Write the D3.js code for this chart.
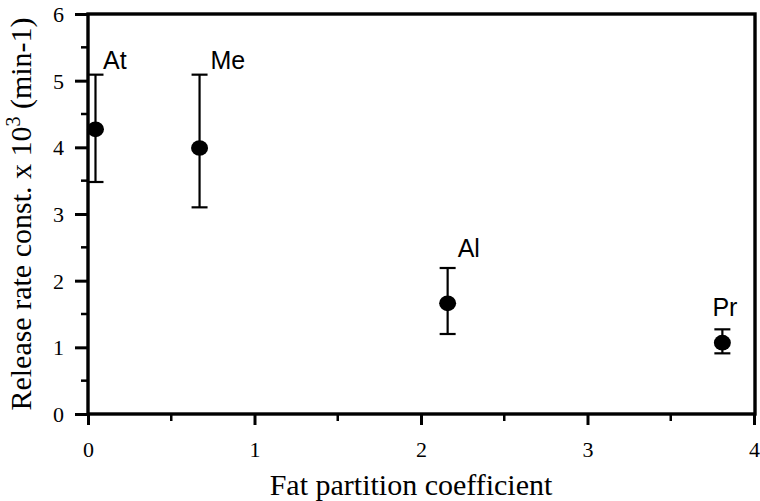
<!DOCTYPE html>
<html lang="en">
<head>
<meta charset="UTF-8">
<title>Release rate vs fat partition coefficient</title>
<script src="https://d3js.org/d3.v7.min.js"></script>
<style>
  body { margin: 0; background: #fff; }
  text { fill: #000; }
</style>
</head>
<body>
<script>
// data
const drugs = ["At", "Me", "Al", "Pr"];
const partition = [0.045, 0.67, 2.16, 3.81];
const rate = [4.27, 3.99, 1.66, 1.07];
const errHigh = [5.09, 5.09, 2.19, 1.27];
const errLow = [3.48, 3.10, 1.20, 0.91];
const labelX = [0.09, 0.735, 2.22, 3.75];
const labelY = [5.18, 5.18, 2.35, 1.47];
const xTicks = [0, 1, 2, 3, 4];
const yTicks = [0, 1, 2, 3, 4, 5, 6];

const W = 760, H = 501;
const x0 = 88, x1 = 754, y0 = 414, y1 = 14;

const svg = d3.select("body").append("svg")
    .attr("width", W)
    .attr("height", H);

const x = d3.scaleLinear().domain([0, 4]).range([x0, x1]);
const y = d3.scaleLinear().domain([0, 6]).range([y0, y1]);

// minor ticks (every 0.5)
const xMinor = d3.range(0.5, 4, 1);
const yMinor = d3.range(0.5, 6, 1);

svg.append("g")
    .selectAll("line")
    .data(xMinor)
    .join("line")
    .attr("x1", d => x(d)).attr("x2", d => x(d))
    .attr("y1", y0).attr("y2", y0 + 7)
    .attr("stroke", "#000").attr("stroke-width", 2.5);

svg.append("g")
    .selectAll("line")
    .data(yMinor)
    .join("line")
    .attr("y1", d => y(d)).attr("y2", d => y(d))
    .attr("x1", x0).attr("x2", x0 - 7)
    .attr("stroke", "#000").attr("stroke-width", 2.5);

// major axes
const xAxis = svg.append("g")
    .attr("transform", `translate(0,${y0})`)
    .call(d3.axisBottom(x).tickValues(xTicks).tickSize(11).tickPadding(16).tickFormat(d3.format("d")));

const yAxis = svg.append("g")
    .attr("transform", `translate(${x0},0)`)
    .call(d3.axisLeft(y).tickValues(yTicks).tickSize(13).tickPadding(11).tickFormat(d3.format("d")));

[xAxis, yAxis].forEach(g => {
    g.select(".domain").remove();
    g.selectAll(".tick line").attr("stroke", "#000").attr("stroke-width", 3);
    g.selectAll(".tick text")
        .style("font-family", "'Liberation Serif', 'Times New Roman', serif")
        .style("font-size", "22px")
        .attr("fill", "#000");
});
yAxis.selectAll(".tick text").attr("dy", "0.34em");

// frame
svg.append("rect")
    .attr("x", x0).attr("y", y1)
    .attr("width", x1 + 1 - x0).attr("height", y0 - y1)
    .attr("fill", "none")
    .attr("stroke", "#000")
    .attr("stroke-width", 3.4);

// error bars
const pts = drugs.map((name, i) => ({
    name, px: partition[i], r: rate[i], hi: errHigh[i], lo: errLow[i], lx: labelX[i], ly: labelY[i]
}));

const bars = svg.append("g").attr("stroke", "#000").attr("stroke-width", 2.2);
bars.selectAll("line.stem")
    .data(pts)
    .join("line")
    .attr("class", "stem")
    .attr("x1", d => x(d.px)).attr("x2", d => x(d.px))
    .attr("y1", d => y(d.hi)).attr("y2", d => y(d.lo));
bars.selectAll("line.capHi")
    .data(pts)
    .join("line")
    .attr("class", "capHi")
    .attr("x1", d => x(d.px) - 8).attr("x2", d => x(d.px) + 8)
    .attr("y1", d => y(d.hi)).attr("y2", d => y(d.hi));
bars.selectAll("line.capLo")
    .data(pts)
    .join("line")
    .attr("class", "capLo")
    .attr("x1", d => x(d.px) - 8).attr("x2", d => x(d.px) + 8)
    .attr("y1", d => y(d.lo)).attr("y2", d => y(d.lo));

// points
svg.append("g")
    .selectAll("ellipse")
    .data(pts)
    .join("ellipse")
    .attr("cx", d => x(d.px))
    .attr("cy", d => y(d.r))
    .attr("rx", 8.5)
    .attr("ry", 7.8)
    .attr("fill", "#000");

// point labels
svg.append("g")
    .selectAll("text")
    .data(pts)
    .join("text")
    .attr("x", d => x(d.lx))
    .attr("y", d => y(d.ly))
    .style("font-family", "'Liberation Sans', Arial, sans-serif")
    .style("font-size", "25px")
    .text(d => d.name);

// axis titles
svg.append("text")
    .attr("x", 411)
    .attr("y", 495)
    .attr("text-anchor", "middle")
    .style("font-family", "'Liberation Serif', 'Times New Roman', serif")
    .style("font-size", "30px")
    .text("Fat partition coefficient");

const yt = svg.append("text")
    .attr("transform", `translate(31,${(y0 + y1) / 2}) rotate(-90)`)
    .attr("text-anchor", "middle")
    .style("font-family", "'Liberation Serif', 'Times New Roman', serif")
    .style("font-size", "30px");
yt.append("tspan").text("Release rate const. x 10");
yt.append("tspan").attr("dy", -11).style("font-size", "20px").text("3");
yt.append("tspan").attr("dy", 11).text(" (min-1)");
</script>
</body>
</html>
